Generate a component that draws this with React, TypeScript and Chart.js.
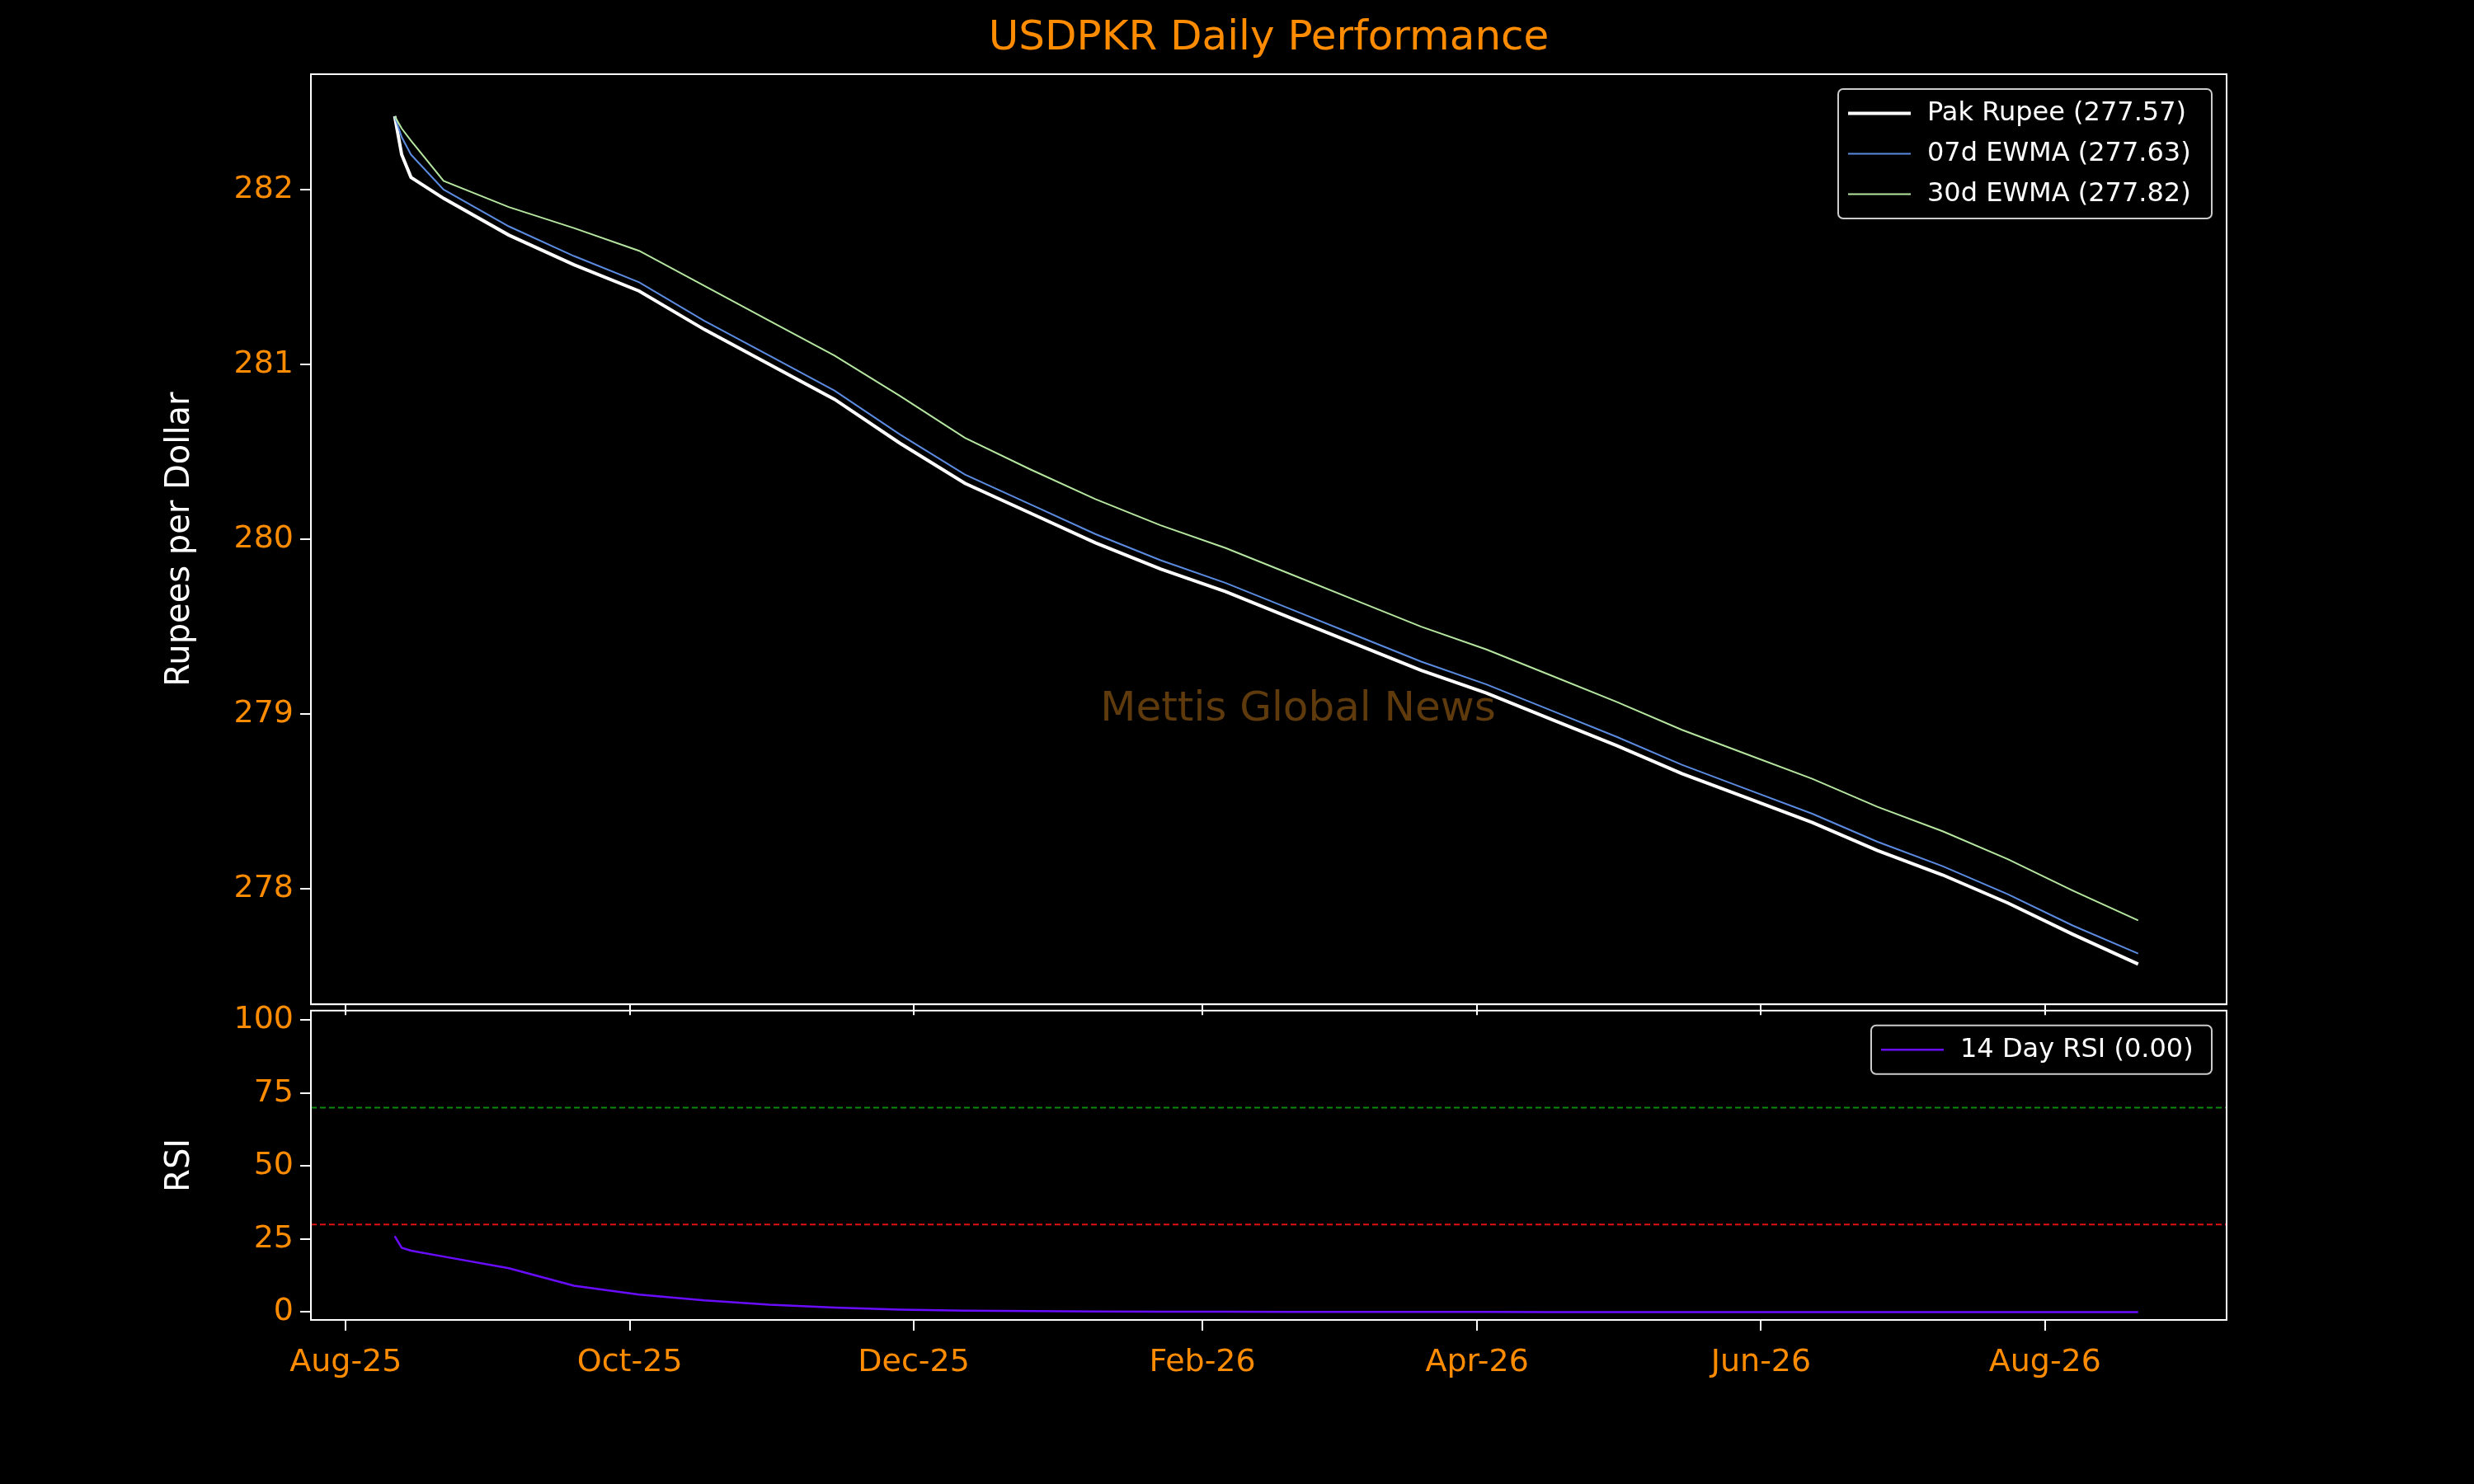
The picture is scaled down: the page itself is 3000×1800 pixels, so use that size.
import React, { useEffect, useRef } from "react";
import { Chart, registerables } from "chart.js";
Chart.register(...registerables);

// days since 2025-08-01
const days = [10.5,12,14,21,35,49,63,77,91,105,119,133,147,161,175,189,203,217,231,245,259,273,287,301,315,329,343,357,371,385];
const price = [282.42,282.2,282.07,281.95,281.74,281.57,281.42,281.2,281.0,280.8,280.55,280.32,280.15,279.98,279.83,279.7,279.55,279.4,279.25,279.12,278.97,278.82,278.66,278.52,278.38,278.22,278.08,277.92,277.74,277.57];
const ewma7 = [282.42,282.3,282.2,282.0,281.79,281.62,281.47,281.25,281.05,280.85,280.6,280.37,280.2,280.03,279.88,279.75,279.6,279.45,279.3,279.17,279.02,278.87,278.71,278.57,278.43,278.27,278.13,277.97,277.79,277.63];
const ewma30 = [282.42,282.35,282.28,282.05,281.9,281.78,281.65,281.45,281.25,281.05,280.82,280.58,280.4,280.23,280.08,279.95,279.8,279.65,279.5,279.37,279.22,279.07,278.91,278.77,278.63,278.47,278.33,278.17,277.99,277.82];
const rsi = [26,22,21,19,15,9,6,4,2.5,1.5,0.8,0.5,0.3,0.2,0.1,0.1,0.05,0.05,0.02,0.02,0.01,0.01,0,0,0,0,0,0,0,0];
const tickDays = [0,61,122,184,243,304,365];
const tickLabels = ["Aug-25","Oct-25","Dec-25","Feb-26","Apr-26","Jun-26","Aug-26"];
const yTicksTop = [278,279,280,281,282];
const yTicksRsi = [0,25,50,75,100];

const ORANGE = "#ff8c00";
const FONT = "DejaVu Sans";

const pts = (ys: number[]) => days.map((d, i) => ({ x: d, y: ys[i] }));

function xScale(showLabels: boolean, h: number) {
  return {
    type: "linear" as const, min: -7.5, max: 404,
    afterBuildTicks: (s: any) => { s.ticks = tickDays.map(v => ({ value: v })); },
    afterFit: (s: any) => { s.height = h; },
    ticks: {
      display: showLabels, color: ORANGE, font: { family: FONT, size: 38 }, padding: 16,
      callback: (v: any) => { const i = tickDays.indexOf(v); return i >= 0 ? tickLabels[i] : ""; },
      maxRotation: 0, autoSkip: false,
    },
    grid: { drawOnChartArea: false, drawTicks: true, tickLength: 13, color: "#fff", lineWidth: 2 },
    border: { color: "#fff", width: 2 },
  };
}
function yScale(min: number, max: number, vals: number[], label: string) {
  return {
    min, max,
    afterBuildTicks: (s: any) => { s.ticks = vals.map(v => ({ value: v })); },
    afterFit: (s: any) => { s.width = 182; },
    ticks: { color: ORANGE, font: { family: FONT, size: 38 }, padding: 8 },
    title: { display: true, text: label, color: "#fff", font: { family: FONT, size: 40 }, padding: 0 },
    grid: { drawOnChartArea: false, drawTicks: true, tickLength: 13, color: "#fff", lineWidth: 2 },
    border: { color: "#fff", width: 2 },
  };
}
function frame(ctx: any, a: any) {
  ctx.save(); ctx.strokeStyle = "#fff"; ctx.lineWidth = 2;
  ctx.strokeRect(a.left, a.top, a.right - a.left, a.bottom - a.top); ctx.restore();
}
function legendBox(ctx: any, right: number, top: number, w: number, items: { c: string; lw: number; t: string }[]) {
  const rowH = 49, h = items.length * rowH + 10;
  const x = right - w;
  ctx.save();
  ctx.fillStyle = "rgba(0,0,0,0.8)"; ctx.strokeStyle = "#ccc"; ctx.lineWidth = 2;
  ctx.beginPath(); (ctx as any).roundRect(x, top, w, h, 6); ctx.fill(); ctx.stroke();
  ctx.font = `32px ${FONT}`; ctx.textBaseline = "middle";
  items.forEach((it, i) => {
    const y = top + 5 + rowH * (i + 0.5);
    ctx.strokeStyle = it.c; ctx.lineWidth = it.lw;
    ctx.beginPath(); ctx.moveTo(x + 12, y); ctx.lineTo(x + 88, y); ctx.stroke();
    ctx.fillStyle = "#fff"; ctx.fillText(it.t, x + 108, y);
  });
  ctx.restore();
}

export default function App() {
  const r1 = useRef<HTMLCanvasElement>(null);
  const r2 = useRef<HTMLCanvasElement>(null);
  useEffect(() => {
    const c1 = new Chart(r1.current!, {
      type: "line",
      data: { datasets: [
        { data: pts(ewma30), borderColor: "#b5e6a0", borderWidth: 2, pointRadius: 0 },
        { data: pts(ewma7), borderColor: "#5b8be0", borderWidth: 2, pointRadius: 0 },
        { data: pts(price), borderColor: "#ffffff", borderWidth: 4, pointRadius: 0 },
      ] },
      options: {
        animation: false, responsive: false, maintainAspectRatio: false,
        layout: { padding: { top: 90, right: 300, left: 195, bottom: 0 } },
        plugins: { legend: { display: false }, tooltip: { enabled: false } },
        scales: { x: xScale(false, 5), y: yScale(277.34, 282.66, yTicksTop, "Rupees per Dollar") },
      },
      plugins: [{
        id: "deco",
        afterDraw(ch: any) {
          const ctx = ch.ctx, a = ch.chartArea;
          frame(ctx, a);
          ctx.save();
          ctx.fillStyle = ORANGE; ctx.font = `50px ${FONT}`; ctx.textAlign = "center"; ctx.textBaseline = "middle";
          ctx.fillText("USDPKR Daily Performance", (a.left + a.right) / 2, 47);
          ctx.fillStyle = "#5e3a0c"; ctx.font = `50px ${FONT}`;
          ctx.fillText("Mettis Global News", 1574, 861);
          ctx.restore();
          legendBox(ctx, a.right - 18, a.top + 18, 453, [
            { c: "#fff", lw: 4, t: "Pak Rupee (277.57)" },
            { c: "#5b8be0", lw: 2, t: "07d EWMA (277.63)" },
            { c: "#b5e6a0", lw: 2, t: "30d EWMA (277.82)" },
          ]);
        },
      }],
    } as any);
    const c2 = new Chart(r2.current!, {
      type: "line",
      data: { datasets: [
        { data: [{ x: -7.5, y: 70 }, { x: 404, y: 70 }], borderColor: "#0a8a0a", borderWidth: 2, borderDash: [7, 4], pointRadius: 0 },
        { data: [{ x: -7.5, y: 30 }, { x: 404, y: 30 }], borderColor: "#e01010", borderWidth: 2, borderDash: [7, 4], pointRadius: 0 },
        { data: pts(rsi), borderColor: "#6a0dff", borderWidth: 2.5, pointRadius: 0 },
      ] },
      options: {
        animation: false, responsive: false, maintainAspectRatio: false,
        layout: { padding: { top: 4, right: 300, left: 195, bottom: 0 } },
        plugins: { legend: { display: false }, tooltip: { enabled: false } },
        scales: { x: xScale(true, 199), y: yScale(-2.7, 103.2, yTicksRsi, "RSI") },
      },
      plugins: [{
        id: "deco2",
        afterDraw(ch: any) {
          const ctx = ch.ctx, a = ch.chartArea;
          frame(ctx, a);
          legendBox(ctx, a.right - 18, a.top + 18, 413, [{ c: "#6a0dff", lw: 2.5, t: "14 Day RSI (0.00)" }]);
        },
      }],
    } as any);
    return () => { c1.destroy(); c2.destroy(); };
  }, []);
  return (
    <div style={{ position: "fixed", left: 0, top: 0, width: 3000, height: 1800, background: "#000" }}>
      <canvas ref={r1} width={3000} height={1249} style={{ position: "absolute", left: 0, top: 0 }} />
      <canvas ref={r2} width={3000} height={605} style={{ position: "absolute", left: 0, top: 1195 }} />
    </div>
  );
}
